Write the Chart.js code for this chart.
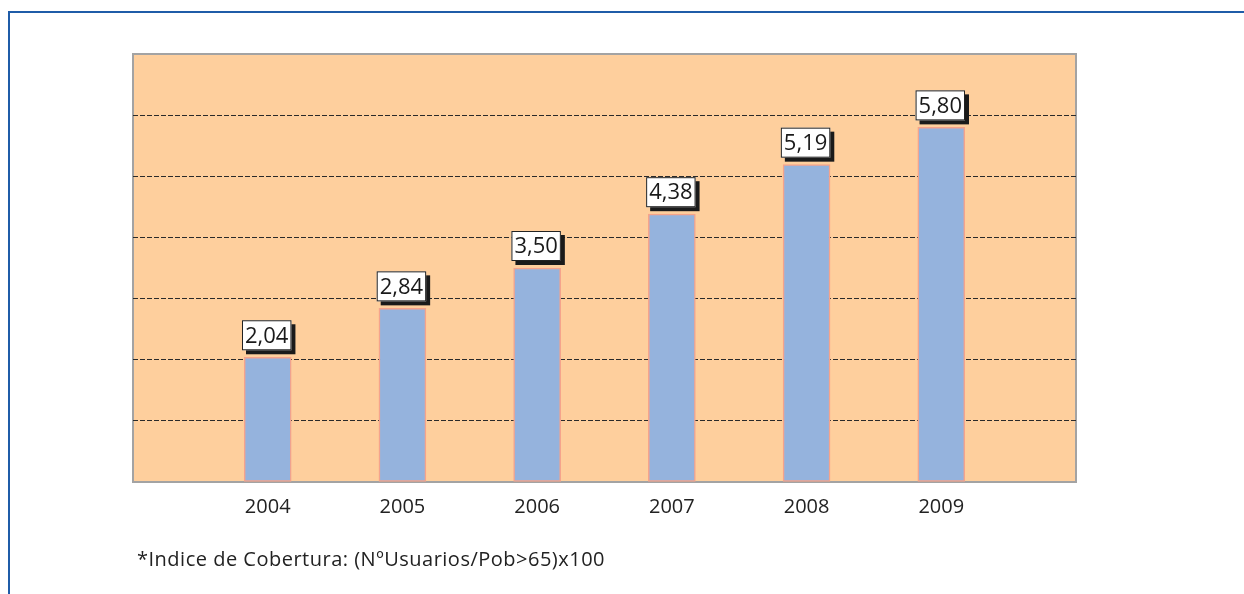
<!DOCTYPE html>
<html lang="es">
<head>
  <meta charset="UTF-8">
  <title>Indice de Cobertura</title>
  <script src="https://cdn.jsdelivr.net/npm/chart.js"></script>
  <style>
    body { margin: 0; background: #fff; }
    .wrap { position: relative; width: 1244px; height: 594px; }
    .frame {
      position: absolute; left: 8px; top: 11px; right: 0; bottom: 0;
      border-top: 2px solid #1f5ca8; border-left: 2px solid #1f5ca8;
    }
    canvas { position: absolute; left: 0; top: 0; }
    .note {
      position: absolute; left: 137px; top: 545px;
      font-family: "Open Sans", sans-serif; font-size: 20px; letter-spacing: 0.5px; color: #222;
    }
  </style>
</head>
<body>
  <div class="wrap">
    <div class="frame"></div>
    <canvas id="chart" width="1244" height="594"></canvas>
    <div class="note">*Indice de Cobertura: (NºUsuarios/Pob&gt;65)x100</div>
  </div>

  <script>
    // data
    const years = ['2004', '2005', '2006', '2007', '2008', '2009'];
    const coverage = [2.04, 2.84, 3.50, 4.38, 5.19, 5.80];
    const yTicks = [0, 1, 2, 3, 4, 5, 6, 7];

    // one empty slot on each side so bars sit at 1..6 of 0..7
    const labels = [''].concat(years, ['']);
    const values = [null].concat(coverage, [null]);

    function fmt(v) {
      return v.toFixed(2).replace('.', ',');
    }

    // peach plot background and grey border
    const plotBg = {
      id: 'plotBg',
      beforeDraw(chart) {
        const { ctx, chartArea: a } = chart;
        ctx.save();
        ctx.fillStyle = '#fecf9d';
        ctx.fillRect(a.left, a.top, a.right - a.left, a.bottom - a.top);
        ctx.strokeStyle = '#a3a3a3';
        ctx.lineWidth = 2;
        ctx.strokeRect(a.left, a.top, a.right - a.left, a.bottom - a.top);
        ctx.restore();
      }
    };

    // boxed value labels with a dark drop shadow
    const boxLabels = {
      id: 'boxLabels',
      afterDatasetsDraw(chart) {
        const ctx = chart.ctx;
        const meta = chart.getDatasetMeta(0);
        ctx.save();
        ctx.font = '22px "Open Sans", sans-serif';
        ctx.textAlign = 'center';
        ctx.textBaseline = 'middle';
        meta.data.forEach((bar, i) => {
          const v = values[i];
          if (v == null) return;
          const txt = fmt(v);
          const w = ctx.measureText(txt).width + 6;
          const h = 30;
          const x = bar.x - w / 2 - 1;
          const y = bar.y - 7 - h;
          ctx.fillStyle = '#1a1a1a';
          ctx.fillRect(x + 4, y + 4, w, h);
          ctx.fillStyle = '#ffffff';
          ctx.fillRect(x, y, w, h);
          ctx.strokeStyle = '#222';
          ctx.lineWidth = 1;
          ctx.strokeRect(x + 0.5, y + 0.5, w - 1, h - 1);
          ctx.fillStyle = '#1a1a1a';
          ctx.fillText(txt, x + w / 2, y + h / 2 + 1);
        });
        ctx.restore();
      }
    };

    new Chart(document.getElementById('chart'), {
      type: 'bar',
      data: {
        labels: labels,
        datasets: [{
          data: values,
          backgroundColor: '#95b3dd',
          borderColor: '#f5a38c',
          borderWidth: 1.5,
          borderSkipped: false,
          barThickness: 47
        }]
      },
      options: {
        responsive: false,
        animation: false,
        events: [],
        layout: { padding: { left: 133, right: 168, top: 54, bottom: 0 } },
        plugins: {
          legend: { display: false },
          tooltip: { enabled: false }
        },
        scales: {
          x: {
            offset: false,
            grid: { display: false, drawTicks: false },
            border: { display: false },
            ticks: {
              padding: 13,
              color: '#222',
              font: { family: '"Open Sans", sans-serif', size: 20 },
              autoSkip: false,
              maxRotation: 0
            },
            afterFit(scale) { scale.height = 112; }
          },
          y: {
            min: yTicks[0],
            max: yTicks[yTicks.length - 1],
            afterBuildTicks(scale) {
              scale.ticks = yTicks.map(v => ({ value: v }));
            },
            ticks: { display: false },
            grid: {
              drawTicks: false,
              lineWidth: 1,
              color(c) {
                const v = c.tick.value;
                return (v === 0 || v === 7) ? 'rgba(0,0,0,0)' : '#2a2a2a';
              }
            },
            border: { display: false, dash: [5, 2] },
            afterFit(scale) { scale.width = 0; }
          }
        }
      },
      plugins: [plotBg, boxLabels]
    });
  </script>
</body>
</html>
